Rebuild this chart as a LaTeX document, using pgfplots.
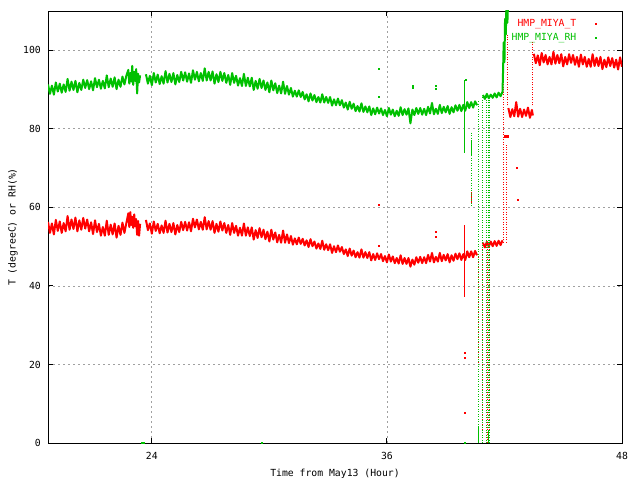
\documentclass[border=0pt]{standalone}
\usepackage{pgfplots}
\pgfplotsset{compat=1.18}
\usepackage{fontspec}
\setmainfont{DejaVu Sans Mono}
\definecolor{gpred}{RGB}{255,0,0}
\definecolor{gpgreen}{RGB}{0,192,0}
\definecolor{gpgrid}{RGB}{160,160,160}

\begin{document}
\fontsize{9.8}{11}\selectfont
\begin{tikzpicture}
\path[use as bounding box] (0,0) rectangle (640bp,480bp);
\begin{axis}[
  at={(48bp,37bp)}, anchor=south west,
  scale only axis, width=574bp, height=432bp,
  xmin=18.7, xmax=48, ymin=0, ymax=110,
  xtick={24,36,48}, ytick={0,20,40,60,80,100},
  tick align=inside, major tick length=5bp,
  grid=major,
  major grid style={gpgrid, line width=0.8bp, dash pattern=on 2bp off 3bp},
  axis line style={line width=0.9bp},
  every tick/.style={black, line width=0.9bp},
  /pgf/number format/assume math mode=true,
  xticklabel style={anchor=base, yshift=-16bp},
  yticklabel style={anchor=east, inner sep=0pt, xshift=-7bp},
  xlabel={Time from May13 (Hour)},
  ylabel={T (degreeC) or RH(\%)},
  xlabel style={at={(axis description cs:0.5,-0.0718)}, anchor=center},
  ylabel style={at={(axis description cs:-0.061,0.5)}, anchor=center},
  unbounded coords=jump,
  legend style={draw=none, fill=none, at={(0.956,0.986)}, anchor=north east,
    inner sep=0pt, row sep=1.5bp,
    /tikz/every odd column/.append style={column sep=17bp}},
  legend cell align=right, legend plot pos=right,
  noisy/.style={line width=2bp, line join=round},
  vdot/.style={line width=1bp, dash pattern=on 1bp off 1.5bp},
  stray/.style={only marks, mark=square*, mark size=0.5bp},
]
% legend samples (gnuplot draws single dots)
\addlegendimage{gpred, only marks, mark=square*, mark size=0.6bp}
\addlegendentry{\textcolor{gpred}{HMP\_MIYA\_T}}
\addlegendimage{gpgreen, only marks, mark=square*, mark size=0.6bp}
\addlegendentry{\textcolor{gpgreen}{HMP\_MIYA\_RH}}

%% temperature
\addplot[gpred, noisy, forget plot] coordinates {
(18.7,56.3)(18.8,53.5)(18.9,55.9)(19.0,53.1)(19.1,56.8)(19.2,54.0)(19.3,56.4)(19.4,53.5)(19.5,56.0)(19.6,53.9)
(19.7,57.8)(19.8,54.3)(19.9,56.9)(20.0,54.5)(20.1,57.4)(20.2,53.9)(20.3,56.7)(20.4,54.3)(20.5,57.3)(20.6,54.6)
(20.7,56.9)(20.8,53.9)(20.9,56.2)(21.0,53.2)(21.1,56.7)(21.2,53.7)(21.3,55.8)(21.4,52.8)(21.5,55.0)(21.6,52.8)
(21.7,56.6)(21.8,53.0)(21.9,55.6)(22.0,53.1)(22.1,55.9)(22.2,52.3)(22.3,55.3)(22.4,53.0)(22.5,56.1)(22.6,53.5)
(22.7,56.0)(22.8,58.5)(22.85,55.0)(22.9,58.8)(22.95,55.5)(23.0,57.6)(23.05,54.8)(23.1,58.2)(23.15,55.2)(23.2,57.0)
(23.25,53.0)(23.3,56.5)(23.35,52.8)(23.4,55.8)(23.55,nan)
(23.7,56.8)(23.8,54.2)(23.9,55.9)(24.0,53.3)(24.1,56.4)(24.2,54.0)(24.3,55.8)(24.4,53.4)(24.5,55.4)(24.6,53.5)
(24.7,56.6)(24.8,53.6)(24.9,55.8)(25.0,53.7)(25.1,56.0)(25.2,53.1)(25.3,55.5)(25.4,53.7)(25.5,56.3)(25.6,54.2)
(25.7,56.3)(25.8,54.1)(25.9,56.2)(26.0,53.9)(26.1,57.1)(26.2,54.9)(26.3,56.9)(26.4,54.4)(26.5,56.3)(26.6,54.3)
(26.7,57.5)(26.8,54.4)(26.9,56.5)(27.0,54.3)(27.1,56.5)(27.2,53.5)(27.3,55.8)(27.4,53.8)(27.5,56.4)(27.6,54.1)
(27.7,56.0)(27.8,53.5)(27.9,55.5)(28.0,53.0)(28.1,56.0)(28.2,53.5)(28.3,55.3)(28.4,52.8)(28.5,54.8)(28.6,52.8)
(28.7,55.9)(28.8,52.8)(28.9,54.9)(29.0,52.7)(29.1,54.9)(29.2,51.8)(29.3,54.2)(29.4,52.2)(29.5,54.7)(29.6,52.4)
(29.7,54.3)(29.8,51.9)(29.9,53.8)(30.0,51.3)(30.1,54.3)(30.2,51.8)(30.3,53.6)(30.4,51.1)(30.5,53.0)(30.6,51.0)
(30.7,54.1)(30.8,51.0)(30.9,53.1)(31.0,50.9)(31.1,52.7)(31.2,50.5)(31.3,52.1)(31.4,50.6)(31.5,52.3)(31.6,50.7)
(31.7,52.0)(31.8,50.3)(31.9,51.6)(32.0,49.9)(32.1,51.9)(32.2,50.1)(32.3,51.3)(32.4,49.5)(32.5,50.8)(32.6,49.4)
(32.7,51.5)(32.8,49.2)(32.9,50.6)(33.0,49.1)(33.1,50.6)(33.2,48.4)(33.3,50.1)(33.4,48.6)(33.5,50.3)(33.6,48.7)
(33.7,49.9)(33.8,48.1)(33.9,49.3)(34.0,47.6)(34.1,49.5)(34.2,47.7)(34.3,49.0)(34.4,47.3)(34.5,48.6)(34.6,47.2)
(34.7,49.3)(34.8,47.2)(34.9,48.6)(35.0,47.1)(35.1,48.6)(35.2,46.5)(35.3,48.1)(35.4,46.6)(35.5,48.3)(35.6,46.8)
(35.7,48.1)(35.8,46.3)(35.9,47.6)(36.0,46.0)(36.1,48.0)(36.2,46.2)(36.3,47.5)(36.4,45.8)(36.5,47.1)(36.6,45.7)
(36.7,47.8)(36.8,45.6)(36.9,47.1)(37.0,45.6)(37.1,47.1)(37.2,44.9)(37.3,46.7)(37.4,45.4)(37.5,47.3)(37.6,45.9)
(37.7,47.4)(37.8,45.8)(37.9,47.3)(38.0,45.8)(38.1,47.9)(38.2,46.2)(38.3,48.4)(38.4,46.0)(38.5,47.4)(38.6,46.2)
(38.7,48.4)(38.8,46.3)(38.9,47.9)(39.0,46.5)(39.1,48.1)(39.2,46.0)(39.3,47.8)(39.4,46.4)(39.5,48.2)(39.6,46.8)
(39.7,48.3)(39.8,46.6)(39.9,48.1)(40.0,46.6)(40.1,48.8)(40.2,47.3)(40.3,48.8)(40.4,47.3)(40.5,48.9)(40.6,47.8)
(40.75,nan)
(40.9,51.0)(41.0,49.8)(41.1,51.2)(41.2,50.0)(41.3,51.3)(41.4,50.1)(41.5,51.4)(41.6,50.2)(41.7,51.5)(41.8,50.4)(41.9,51.6)
(42.05,nan)
(42.2,85.3)(42.3,83.0)(42.4,85.0)(42.5,83.2)(42.6,86.8)(42.7,83.1)(42.8,85.1)(42.9,83.0)(43.0,84.9)(43.1,83.3)
(43.2,85.4)(43.3,82.8)(43.4,84.8)(43.45,83.4)(43.47,nan)
(43.5,99.1)(43.6,96.7)(43.7,98.7)(43.8,96.2)(43.9,99.3)(44.0,96.9)(44.1,98.8)(44.2,96.4)(44.3,98.3)(44.4,96.4)
(44.5,99.6)(44.6,96.6)(44.7,98.8)(44.8,96.7)(44.9,99.0)(45.0,95.9)(45.1,98.3)(45.2,96.4)(45.3,99.0)(45.4,96.8)
(45.5,98.8)(45.6,96.3)(45.7,98.3)(45.8,95.8)(45.9,98.9)(46.0,96.4)(46.1,98.3)(46.2,95.8)(46.3,97.8)(46.4,95.8)
(46.5,99.0)(46.6,96.0)(46.7,98.1)(46.8,96.0)(46.9,98.3)(47.0,95.2)(47.1,97.6)(47.2,95.7)(47.3,98.2)(47.4,96.0)
(47.5,98.0)(47.6,95.6)(47.7,97.6)(47.8,95.1)(47.9,98.2)(48.0,95.8)
};
% temperature drop-outs and jumps
\addplot[gpred, line width=1bp, forget plot] coordinates {(39.98,55.5)(39.98,37.2)};
\addplot[gpred, line width=1bp, forget plot] coordinates {(40.3,64)(40.3,61)};
\addplot[gpred, vdot, forget plot] coordinates {(40.65,48)(40.65,20)};
\addplot[gpred, vdot, forget plot] coordinates {(40.9,50)(40.9,2.5)};
\addplot[gpred, vdot, forget plot] coordinates {(41.12,50)(41.12,0)};
\addplot[gpred, vdot, forget plot] coordinates {(41.22,50)(41.22,3)};
\addplot[gpred, vdot, forget plot] coordinates {(41.95,51)(41.95,100)};
\addplot[gpred, vdot, forget plot] coordinates {(42.08,51)(42.08,76)};
\addplot[gpred, vdot, forget plot] coordinates {(42.15,86)(42.15,104)};
\addplot[gpred, line width=3bp, forget plot] coordinates {(42.0,78)(42.25,78)};
\addplot[gpred, vdot, forget plot] coordinates {(43.45,86)(43.45,102)};
\addplot[gpred, stray, forget plot] coordinates {(35.6,60.8)(35.6,50.2)(38.5,53.7)(38.5,52.5)(39.98,23.0)(39.98,21.6)(39.98,7.6)(42.6,70)(42.7,62)};

%% relative humidity
\addplot[gpgreen, noisy, forget plot] coordinates {
(18.7,91.3)(18.8,88.9)(18.9,91.0)(19.0,88.7)(19.1,91.8)(19.2,89.5)(19.3,91.5)(19.4,89.2)(19.5,91.3)(19.6,89.4)
(19.7,92.7)(19.8,89.7)(19.9,92.0)(20.0,89.9)(20.1,92.2)(20.2,89.3)(20.3,91.7)(20.4,89.9)(20.5,92.5)(20.6,90.4)
(20.7,92.4)(20.8,90.1)(20.9,92.1)(21.0,89.8)(21.1,92.9)(21.2,90.6)(21.3,92.5)(21.4,90.2)(21.5,92.2)(21.6,90.3)
(21.7,93.6)(21.8,90.6)(21.9,92.8)(22.0,90.7)(22.1,93.1)(22.2,90.1)(22.3,92.5)(22.4,90.7)(22.5,93.3)(22.6,91.3)
(22.7,93.5)(22.8,95.0)(22.85,91.5)(22.9,94.2)(22.95,92.0)(23.0,96.0)(23.05,91.2)(23.1,94.5)(23.15,92.2)(23.2,95.2)
(23.25,89.0)(23.3,94.0)(23.35,91.8)(23.4,93.6)(23.55,nan)
(23.7,93.9)(23.8,91.5)(23.9,93.5)(24.0,91.1)(24.1,94.2)(24.2,91.8)(24.3,93.8)(24.4,91.4)(24.5,93.4)(24.6,91.5)
(24.7,94.7)(24.8,91.8)(24.9,94.0)(25.0,91.9)(25.1,94.2)(25.2,91.3)(25.3,93.7)(25.4,91.9)(25.5,94.5)(25.6,92.3)
(25.7,94.4)(25.8,92.0)(25.9,94.1)(26.0,91.7)(26.1,94.9)(26.2,92.5)(26.3,94.5)(26.4,92.1)(26.5,94.2)(26.6,92.2)
(26.7,95.4)(26.8,92.3)(26.9,94.5)(27.0,92.3)(27.1,94.6)(27.2,91.5)(27.3,93.9)(27.4,91.9)(27.5,94.5)(27.6,92.2)
(27.7,94.2)(27.8,91.7)(27.9,93.7)(28.0,91.2)(28.1,94.2)(28.2,91.7)(28.3,93.5)(28.4,91.0)(28.5,92.9)(28.6,90.9)
(28.7,94.0)(28.8,90.9)(28.9,93.0)(29.0,90.8)(29.1,93.0)(29.2,89.9)(29.3,92.2)(29.4,90.2)(29.5,92.7)(29.6,90.4)
(29.7,92.3)(29.8,89.9)(29.9,91.8)(30.0,89.3)(30.1,92.3)(30.2,89.8)(30.3,91.6)(30.4,89.1)(30.5,91.0)(30.6,89.0)
(30.7,92.0)(30.8,88.9)(30.9,90.9)(31.0,88.7)(31.1,90.4)(31.2,88.2)(31.3,89.7)(31.4,88.2)(31.5,89.8)(31.6,88.1)
(31.7,89.4)(31.8,87.5)(31.9,88.8)(32.0,87.0)(32.1,89.0)(32.2,87.2)(32.3,88.6)(32.4,86.8)(32.5,88.1)(32.6,86.7)
(32.7,88.8)(32.8,86.7)(32.9,88.1)(33.0,86.6)(33.1,88.1)(33.2,85.9)(33.3,87.5)(33.4,86.0)(33.5,87.7)(33.6,86.0)
(33.7,87.3)(33.8,85.4)(33.9,86.7)(34.0,84.9)(34.1,86.9)(34.2,85.1)(34.3,86.4)(34.4,84.5)(34.5,85.8)(34.6,84.4)
(34.7,86.5)(34.8,84.3)(34.9,85.7)(35.0,84.2)(35.1,85.7)(35.2,83.5)(35.3,85.2)(35.4,83.7)(35.5,85.4)(35.6,83.9)
(35.7,85.2)(35.8,83.5)(35.9,84.8)(36.0,83.2)(36.1,85.3)(36.2,83.6)(36.3,84.9)(36.4,83.2)(36.5,84.6)(36.6,83.3)
(36.7,85.5)(36.8,83.5)(36.9,85.0)(37.0,83.6)(37.1,85.2)(37.2,81.4)(37.3,84.9)(37.4,83.5)(37.5,85.3)(37.6,83.8)
(37.7,85.3)(37.8,83.6)(37.9,85.1)(38.0,83.5)(38.1,85.6)(38.2,83.9)(38.3,86.6)(38.4,83.7)(38.5,85.1)(38.6,83.8)
(38.7,86.1)(38.8,84.0)(38.9,85.6)(39.0,84.2)(39.1,85.8)(39.2,83.8)(39.3,85.5)(39.4,84.2)(39.5,86.0)(39.6,84.6)
(39.7,86.1)(39.8,84.5)(39.9,86.1)(40.0,84.6)(40.1,86.8)(40.2,85.3)(40.3,86.8)(40.4,85.4)(40.5,87.0)(40.6,86.0)
(40.75,nan)
(40.9,88.6)(41.0,87.6)(41.1,88.9)(41.2,87.8)(41.3,88.7)(41.4,87.9)(41.5,89.0)(41.6,88.0)(41.7,89.2)(41.8,88.3)(41.9,89.4)
(41.93,95)(41.96,102)(42.0,97)(42.03,108)(42.07,104)(42.1,112)(42.15,107)(42.2,115)
};
% humidity drop-outs
\addplot[gpgreen, line width=1bp, forget plot] coordinates {(39.98,92.4)(39.98,73.8)};
\addplot[gpgreen, vdot, forget plot] coordinates {(40.3,79)(40.3,60)};
\addplot[gpgreen, line width=1bp, forget plot] coordinates {(40.3,73)(40.3,77)};
\addplot[gpgreen, vdot, forget plot] coordinates {(40.65,87)(40.65,0)};
\addplot[gpgreen, line width=1bp, forget plot] coordinates {(40.65,0)(40.65,4)};
\addplot[gpgreen, vdot, forget plot] coordinates {(40.9,88)(40.9,0)};
\addplot[gpgreen, vdot, forget plot] coordinates {(41.08,88)(41.08,0)};
\addplot[gpgreen, vdot, forget plot] coordinates {(41.18,88)(41.18,0)};
\addplot[gpgreen, line width=1bp, forget plot] coordinates {(41.18,0)(41.18,3)};
\addplot[gpgreen, vdot, forget plot] coordinates {(41.25,88)(41.25,0)};
\addplot[gpgreen, stray, forget plot] coordinates {(35.6,95.4)(35.6,88.2)(38.5,91.1)(38.5,90.3)(40.0,92.4)(37.3,91.0)(37.3,90.4)(23.5,0)(23.6,0)(29.6,0)(39.98,0)};
\end{axis}
\end{tikzpicture}
\end{document}
